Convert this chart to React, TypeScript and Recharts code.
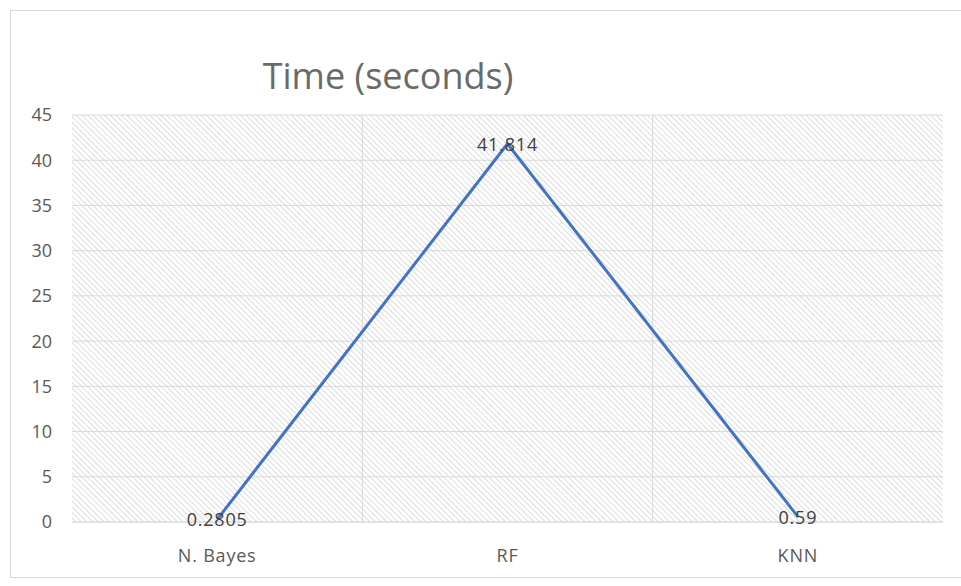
import React from 'react';
import { LineChart, Line, XAxis, YAxis, CartesianGrid, ReferenceLine } from 'recharts';

const categories = ['N. Bayes', 'RF', 'KNN'];
const times = [0.2805, 41.814, 0.59];
const yTicks = [0, 5, 10, 15, 20, 25, 30, 35, 40, 45];

const data = categories.map((c, i) => ({ x: i + 0.5, name: c, value: times[i] }));

const FONT = '"Open Sans", "Noto Sans", sans-serif';

const renderLabel = (props: any) => {
  const { x, y, value } = props;
  return (
    <text x={x} y={y} textAnchor="middle" dominantBaseline="central" fontSize={18} letterSpacing={0.8} fill="#404040" fontFamily={FONT}>
      {String(value)}
    </text>
  );
};

export default function App() {
  return (
    <div style={{ position: 'absolute', left: 0, top: 0, width: 961, height: 586, background: '#fff' }}>
      <svg width={0} height={0} style={{ position: 'absolute' }}>
        <defs>
          <pattern id="hatch" width={4} height={4} patternUnits="userSpaceOnUse" patternTransform="rotate(-45)">
            <rect width={4} height={4} fill="#ffffff" />
            <line x1={0} y1={0} x2={0} y2={4} stroke="#cdcdcd" strokeWidth={1.4} />
          </pattern>
        </defs>
      </svg>
      <div style={{ position: 'absolute', left: 10, top: 10, width: 960, height: 568, border: '1px solid #d9d9d9', boxSizing: 'border-box' }} />
      <div style={{ position: 'absolute', left: 188, top: 51, width: 400, textAlign: 'center', fontFamily: FONT, fontSize: 36, color: '#6a6a6a', lineHeight: '50px' }}>
        Time (seconds)
      </div>
      <div style={{ position: 'absolute', left: 0, top: 0 }}>
        <LineChart width={961} height={586} data={data} margin={{ top: 115, right: 18, bottom: 34, left: 12 }}>
          <CartesianGrid vertical={false} stroke="#d9d9d9" fill="url(#hatch)" />
          <ReferenceLine x={1} stroke="#d9d9d9" />
          <ReferenceLine x={2} stroke="#d9d9d9" />
          <XAxis
            dataKey="x"
            type="number"
            domain={[0, 3]}
            ticks={[0.5, 1.5, 2.5]}
            tickFormatter={(v: number) => categories[Math.floor(v)]}
            axisLine={{ stroke: '#d9d9d9' }}
            tickLine={false}
            tickMargin={21}
            tick={{ fill: '#595959', fontSize: 18, fontFamily: FONT, letterSpacing: 0.8 }}
          />
          <YAxis
            width={60}
            domain={[0, 45]}
            ticks={yTicks}
            axisLine={false}
            tickLine={false}
            tickMargin={14}
            tick={{ fill: '#595959', fontSize: 18, fontFamily: FONT }}
          />
          <Line
            type="linear"
            dataKey="value"
            stroke="#4472C4"
            strokeWidth={3}
            dot={false}
            isAnimationActive={false}
            label={renderLabel}
          />
        </LineChart>
      </div>
    </div>
  );
}
